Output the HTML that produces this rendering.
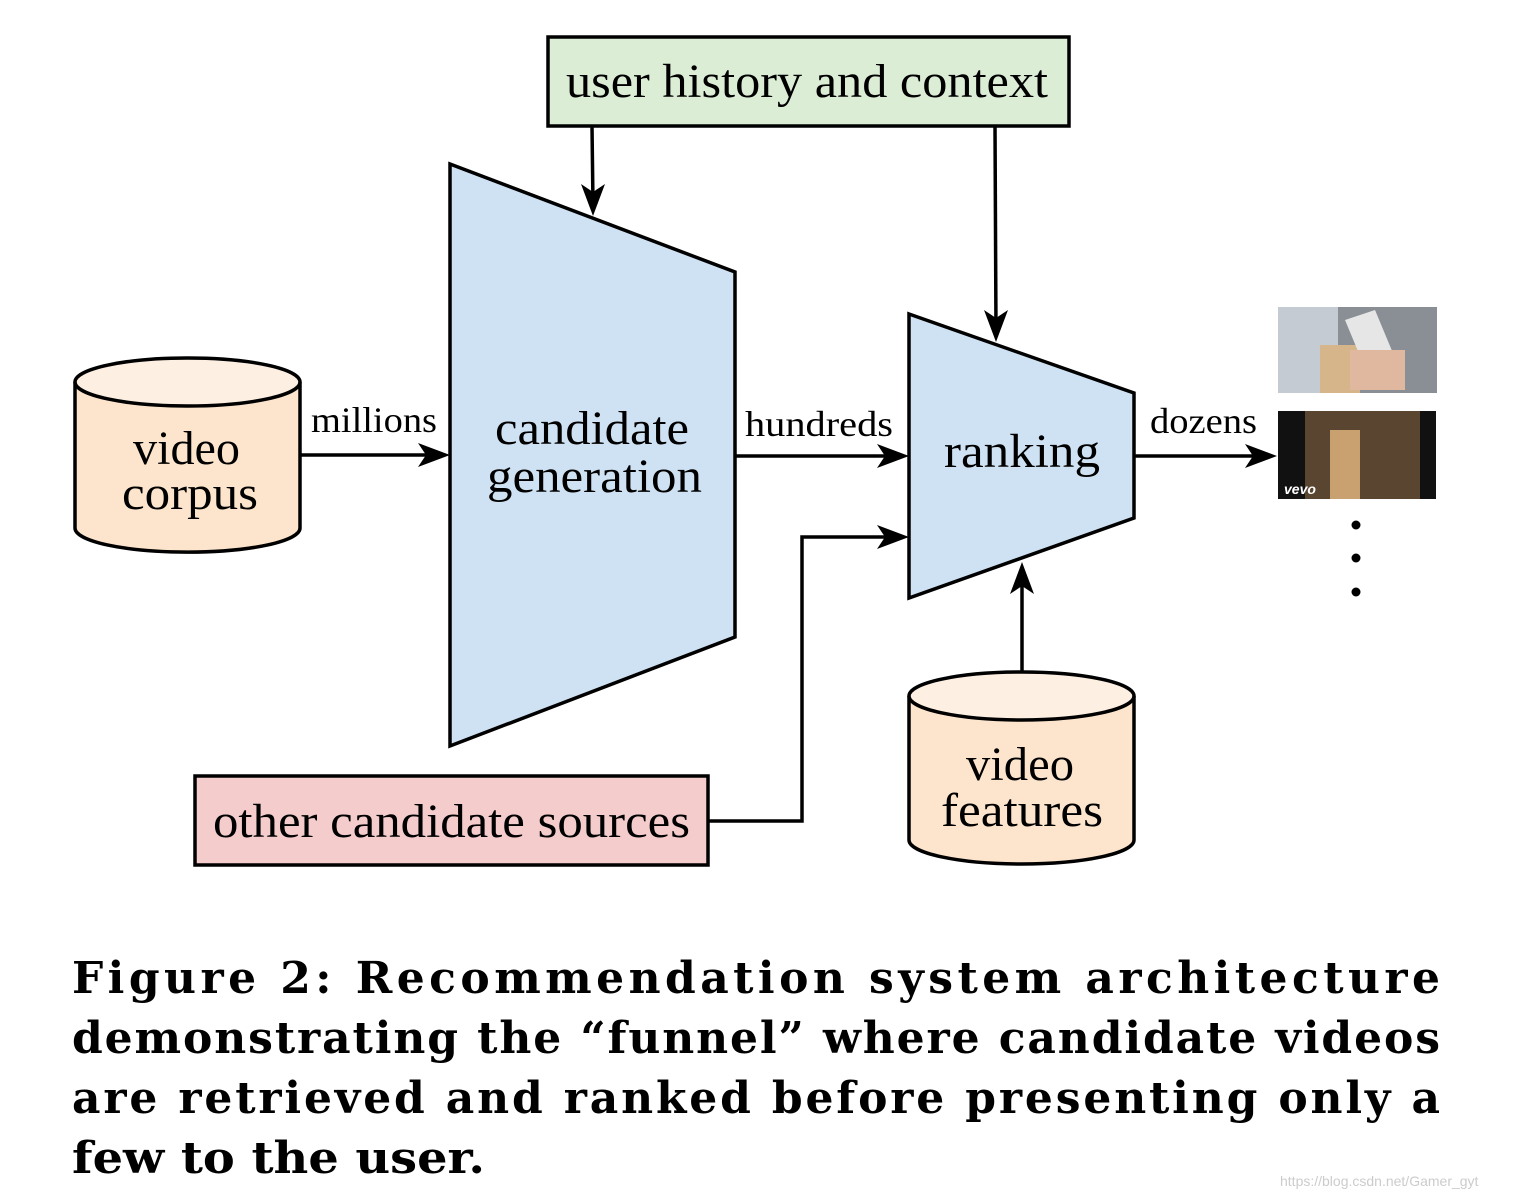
<!DOCTYPE html>
<html><head><style>body{margin:0;background:#fff}svg{display:block}</style></head><body>
<svg width="1540" height="1198" viewBox="0 0 1540 1198" xmlns="http://www.w3.org/2000/svg" font-family="Liberation Serif, serif">
<g stroke="#000" stroke-width="3.5">
<rect x="548" y="37" width="521" height="89" fill="#dcedd6"/>
<polygon points="450,164 735,272 735,637 450,746" fill="#cfe2f3"/>
<polygon points="909,314 1134,393 1134,518 909,598" fill="#cfe2f3"/>
<rect x="195" y="776" width="513" height="89" fill="#f4cccc"/>
<path d="M75,382 L75,528 A112,24 0 0 0 300,528 L300,382" fill="#fce5cc"/>
<ellipse cx="187.5" cy="382" rx="112.5" ry="24" fill="#fdefe2"/>
<path d="M909,696 L909,840 A112.5,24 0 0 0 1134,840 L1134,696" fill="#fce5cc"/>
<ellipse cx="1021.5" cy="696" rx="112.5" ry="24" fill="#fdefe2"/>
<g fill="none">
<line x1="300" y1="455" x2="440" y2="455"/>
<line x1="735" y1="456" x2="899" y2="456"/>
<line x1="1134" y1="456" x2="1267" y2="456"/>
<line x1="592" y1="126" x2="593" y2="205"/>
<line x1="995" y1="126" x2="996" y2="332"/>
<line x1="1022" y1="671" x2="1022" y2="572"/>
<polyline points="708,821 802,821 802,537 899,537"/>
</g>
</g>
<g fill="#000">
<path d="M450,455 L418,443 L426,455 L418,467 Z"/>
<path d="M909,456 L877,444 L885,456 L877,468 Z"/>
<path d="M1277,456 L1245,444 L1253,456 L1245,468 Z"/>
<path d="M909,537 L877,525 L885,537 L877,549 Z"/>
<path d="M593,216 L581,184 L593,192 L605,184 Z"/>
<path d="M996,342 L984,310 L996,318 L1008,310 Z"/>
<path d="M1022,562 L1010,594 L1022,586 L1034,594 Z"/>
<circle cx="1356" cy="525" r="4.5"/><circle cx="1356" cy="558" r="4.5"/><circle cx="1356" cy="592" r="4.5"/>
</g>
<rect x="1278" y="307" width="159" height="86" fill="#8a8f96"/>
<rect x="1278" y="307" width="60" height="86" fill="#c4cbd2"/>
<rect x="1320" y="345" width="40" height="48" fill="#d6b58a"/>
<polygon points="1345,320 1375,310 1395,358 1365,368" fill="#e6e6e6"/>
<rect x="1350" y="350" width="55" height="40" fill="#e0b8a0"/>
<rect x="1278" y="411" width="158" height="88" fill="#111"/>
<rect x="1305" y="411" width="115" height="88" fill="#5a4530"/>
<rect x="1330" y="430" width="30" height="69" fill="#c9a070"/>
<text x="1284" y="494" font-family="Liberation Sans, sans-serif" font-weight="bold" font-style="italic" font-size="14" fill="#fff">vevo</text>
<g font-size="48" lengthAdjust="spacingAndGlyphs">
<text x="566" y="97" textLength="482" lengthAdjust="spacingAndGlyphs">user history and context</text>
<text x="495" y="444" textLength="194" lengthAdjust="spacingAndGlyphs">candidate</text>
<text x="487" y="492" textLength="215" lengthAdjust="spacingAndGlyphs">generation</text>
<text x="944" y="467" textLength="156" lengthAdjust="spacingAndGlyphs">ranking</text>
<text x="133" y="464" textLength="107" lengthAdjust="spacingAndGlyphs">video</text>
<text x="122" y="509" textLength="136" lengthAdjust="spacingAndGlyphs">corpus</text>
<text x="966" y="780" textLength="108" lengthAdjust="spacingAndGlyphs">video</text>
<text x="941" y="826" textLength="162" lengthAdjust="spacingAndGlyphs">features</text>
<text x="213" y="837" textLength="477" lengthAdjust="spacingAndGlyphs">other candidate sources</text>
</g>
<g font-size="36">
<text x="311" y="432" textLength="126" lengthAdjust="spacingAndGlyphs">millions</text>
<text x="745" y="436" textLength="148" lengthAdjust="spacingAndGlyphs">hundreds</text>
<text x="1150" y="433" textLength="107" lengthAdjust="spacingAndGlyphs">dozens</text>
</g>
<g font-family="DejaVu Serif, serif" font-size="44" font-weight="bold">
<text x="72" y="993" textLength="1368" lengthAdjust="spacing">Figure 2:  Recommendation system architecture</text>
<text x="72" y="1053" textLength="1368" lengthAdjust="spacing">demonstrating the “funnel” where candidate videos</text>
<text x="72" y="1113" textLength="1368" lengthAdjust="spacing">are retrieved and ranked before presenting only a</text>
<text x="72" y="1173" textLength="413" lengthAdjust="spacingAndGlyphs">few to the user.</text>
</g>
<text x="1280" y="1186" font-family="Liberation Sans, sans-serif" font-size="14" fill="#ccc">https://blog.csdn.net/Gamer_gyt</text>
</svg>
</body></html>
